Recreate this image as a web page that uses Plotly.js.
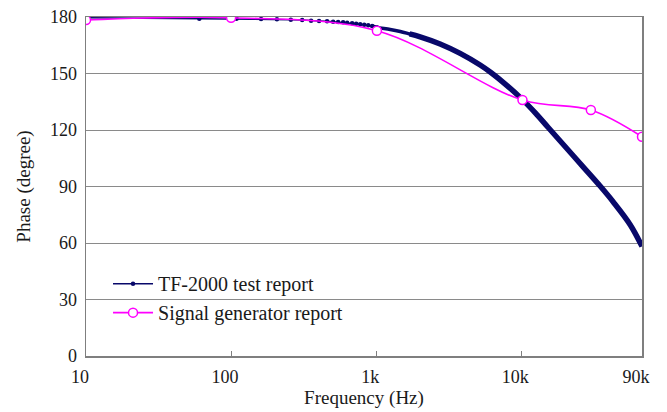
<!DOCTYPE html>
<html>
<head>
<meta charset="utf-8">
<script src="https://cdn.plot.ly/plotly-3.0.1.min.js"></script>
<style>html,body{margin:0;padding:0;background:#fff;}#chart{width:667px;height:412px;}</style>
</head>
<body>
<div id="chart"></div>
<script>
// Frequency (Hz) and phase (degree)
const tfFreqLow = [10, 60.4, 109, 161, 207, 258, 309, 356, 404, 459, 505, 547, 592, 631, 683, 728, 776, 827, 881, 938, 1012];
const tfPhaseLow = [179.6, 179.1, 179.1, 178.9, 178.8, 178.6, 178.4, 178.0, 177.9, 177.7, 177.5, 177.3, 177.2, 177.0, 176.7, 176.4, 176.2, 175.9, 175.6, 175.2, 174.5];
const tfFreqMid = [938, 1012, 1250, 1466, 1700, 2010];
const tfPhaseMid = [175.2, 174.5, 173.4, 172.3, 171.0, 169.5];
const tfFreqHigh = [1700, 2010, 2760, 3793, 5210, 6210, 7760, 10120, 12500, 15350, 19500, 26800, 35100, 43100, 56500, 68000];
const tfPhaseHigh = [171.0, 169.5, 165.7, 160.7, 154.5, 150.4, 144.4, 136.4, 129.1, 121.3, 112.3, 100.3, 90.1, 81.8, 69.6, 58.2];
const sgFreq = [10, 100, 1012, 10200, 30200, 68000];
const sgPhase = [178.4, 179.6, 172.7, 135.9, 130.6, 116.4];
const xTickVals = [10, 100, 1000, 10000, 68000];
const xTickText = ['10', '100', '1k', '10k', '90k'];
const yTickVals = [0, 30, 60, 90, 120, 150, 180];

const navy = '#08086a';
const magenta = '#ff00ff';
const font = 'Liberation Serif, Times New Roman, serif';
const textColor = '#1a1a1a';

const traces = [
  {
    x: tfFreqLow, y: tfPhaseLow, type: 'scatter', mode: 'lines+markers',
    name: 'TF-2000 test report', legendgroup: 'tf',
    line: {color: navy, width: 1.5},
    marker: {color: navy, size: 4.5, symbol: 'circle'}
  },
  {
    x: tfFreqMid, y: tfPhaseMid, type: 'scatter', mode: 'lines',
    name: 'TF-2000 test report', legendgroup: 'tf', showlegend: false,
    line: {color: navy, width: 3.5, shape: 'spline'}
  },
  {
    x: tfFreqHigh, y: tfPhaseHigh, type: 'scatter', mode: 'lines',
    name: 'TF-2000 test report', legendgroup: 'tf', showlegend: false,
    line: {color: navy, width: 5.5, shape: 'spline'}
  },
  {
    x: sgFreq, y: sgPhase, type: 'scatter', mode: 'lines+markers',
    name: 'Signal generator report',
    line: {color: magenta, width: 1.6, shape: 'spline', smoothing: 1},
    marker: {color: '#ffffff', size: 9, symbol: 'circle', line: {color: magenta, width: 1.5}}
  }
];

const layout = {
  width: 667, height: 412,
  margin: {l: 86, r: 25, t: 17, b: 56},
  paper_bgcolor: '#ffffff', plot_bgcolor: '#ffffff',
  font: {family: font, size: 18, color: textColor},
  showlegend: true,
  legend: {
    x: 0.0396, y: 0.271, xanchor: 'left', yanchor: 'top',
    bgcolor: 'rgba(0,0,0,0)', borderwidth: 0, itemwidth: 40,
    font: {family: font, size: 20, color: textColor},
    tracegroupgap: 0
  },
  xaxis: {
    type: 'log',
    range: [1, Math.log10(68000)],
    tickvals: xTickVals, ticktext: xTickText,
    ticks: 'inside', ticklen: 5, tickcolor: '#7f7f7f',
    ticklabelstandoff: 4, ticklabelshift: -6,
    showgrid: false, zeroline: false,
    showline: true, linecolor: '#7f7f7f', linewidth: 1.5, mirror: true,
    tickfont: {family: font, size: 18, color: textColor},
    title: {text: 'Frequency (Hz)', standoff: 0, font: {family: font, size: 19, color: textColor}}
  },
  yaxis: {
    range: [0, 180],
    tickvals: yTickVals,
    ticks: '', ticklabelstandoff: 4,
    showgrid: true, gridcolor: '#8a8a8a', gridwidth: 1,
    zeroline: false,
    showline: true, linecolor: '#7f7f7f', linewidth: 1.5, mirror: true,
    tickfont: {family: font, size: 18, color: textColor},
    title: {text: 'Phase (degree)', standoff: 14, font: {family: font, size: 19, color: textColor}}
  }
};

Plotly.newPlot('chart', traces, layout, {displayModeBar: false, staticPlot: true});
</script>
</body>
</html>
